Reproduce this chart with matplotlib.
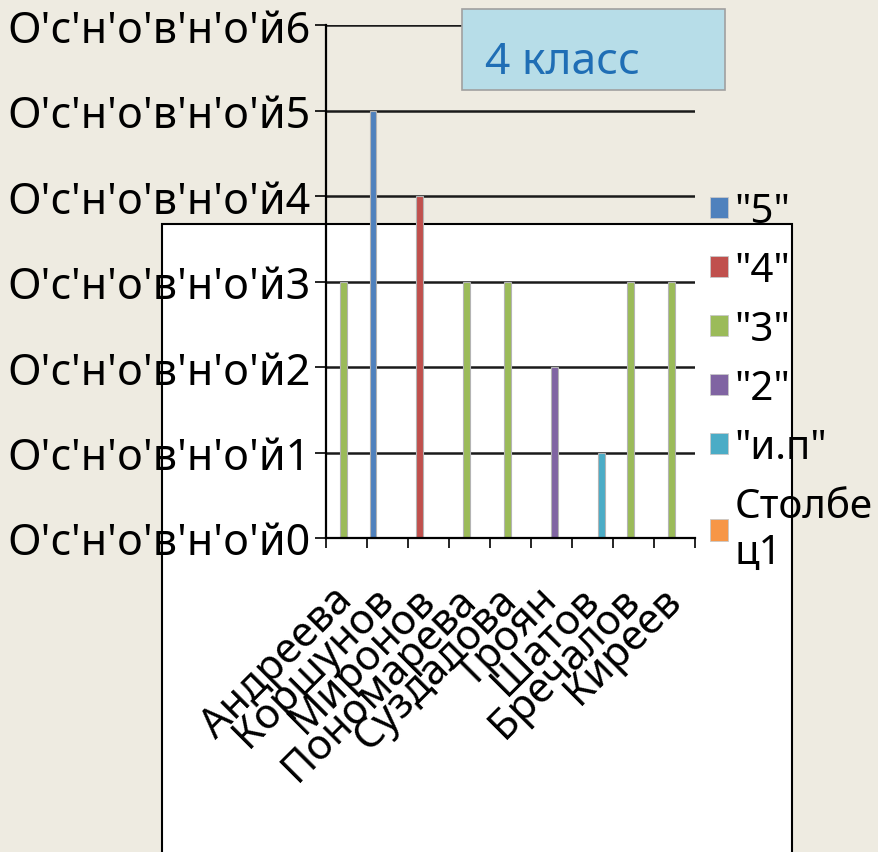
import matplotlib
matplotlib.use('Agg')
import matplotlib.pyplot as plt
from matplotlib.patches import Rectangle
import numpy as np

plt.rcParams['font.family'] = ['Noto Sans', 'DejaVu Sans']

# data
students = ['Андреева', 'Коршунов', 'Миронов', 'Пономарева', 'Суздалова',
            'Троян', 'Шатов', 'Бречалов', 'Киреев']
series_names = ['"5"', '"4"', '"3"', '"2"', '"и.п"', 'Столбе\nц1']
grade5 = [0, 5, 0, 0, 0, 0, 0, 0, 0]
grade4 = [0, 0, 4, 0, 0, 0, 0, 0, 0]
grade3 = [3, 0, 0, 3, 3, 0, 0, 3, 3]
grade2 = [0, 0, 0, 0, 0, 2, 0, 0, 0]
grade_ip = [0, 0, 0, 0, 0, 0, 1, 0, 0]
column1 = [0, 0, 0, 0, 0, 0, 0, 0, 0]
y_labels = ["O'c'н'o'в'н'o'й0", "O'c'н'o'в'н'o'й1", "O'c'н'o'в'н'o'й2",
            "O'c'н'o'в'н'o'й3", "O'c'н'o'в'н'o'й4", "O'c'н'o'в'н'o'й5",
            "O'c'н'o'в'н'o'й6"]

colors = ['#4F81BD', '#C0504D', '#9BBB59', '#8064A2', '#4BACC6', '#F79646']
all_series = [grade5, grade4, grade3, grade2, grade_ip, column1]

fig = plt.figure(figsize=(8.79, 8.53), dpi=100)
fig.patch.set_facecolor('#EEEBE1')

# white sheet behind the chart
fig.patches.append(Rectangle((162 / 879, -0.01), (792 - 162) / 879, 1 - 225 / 853 + 0.01,
                             transform=fig.transFigure, facecolor='white',
                             edgecolor='black', linewidth=1.5, zorder=-5))

ax = fig.add_axes([326 / 879, 1 - 539 / 853, (695 - 326) / 879, (539 - 26.3) / 853])
ax.set_facecolor('none')

x = np.arange(len(students))
slot = 0.86 / 6
for i, (vals, name, c) in enumerate(zip(all_series, series_names, colors)):
    h = np.array(vals, dtype=float)
    h[h == 0] = np.nan  # empty cells are not drawn
    ax.bar(x + (i - 2.5) * slot, h, width=0.16, color=c, edgecolor='#B4B4B4',
           linewidth=0.8, label=name)

ax.set_xlim(-0.5, len(students) - 0.5)
ax.set_ylim(0, 6)
ax.set_yticks(range(7))
ax.set_yticklabels(y_labels, fontsize=31)
ax.yaxis.grid(True, color='#1A1A1A', linewidth=1.8)
ax.set_axisbelow(True)

ax.set_xticks(x)
ax.set_xticklabels(students, fontsize=30, rotation=45, ha='right', va='center',
                   rotation_mode='anchor')
ax.tick_params(axis='x', length=0, pad=40)
ax.set_xticks(np.arange(-0.5, len(students)), minor=True)
ax.tick_params(axis='x', which='minor', length=7, width=1.2, direction='out')
ax.tick_params(axis='y', length=8, width=1.2, pad=3)

for s in ['top', 'right']:
    ax.spines[s].set_visible(False)
for s in ['left', 'bottom']:
    ax.spines[s].set_linewidth(1.6)

handles = [Rectangle((0, 0), 1, 1, facecolor=c, edgecolor='#C8C8C8', linewidth=0.6)
           for c in colors]
fig.legend(handles, series_names, loc='upper left', bbox_to_anchor=(710 / 879, 1 - 193 / 853),
           frameon=False, fontsize=29, handlelength=0.45, handleheight=0.45,
           handletextpad=0.15, labelspacing=0.47, borderaxespad=0, borderpad=0)

# title box
fig.patches.append(Rectangle((462 / 879, 1 - 91 / 853), 263 / 879, 81 / 853,
                             transform=fig.transFigure, facecolor='#B7DDE8',
                             edgecolor='#A0A0A0', linewidth=1.2, zorder=5))
fig.text(485 / 879, 1 - 63 / 853, '4 класс', fontsize=32, color='#1F6EB5',
         ha='left', va='center', zorder=6)

fig.savefig('out.png', dpi=100, facecolor=fig.get_facecolor())
